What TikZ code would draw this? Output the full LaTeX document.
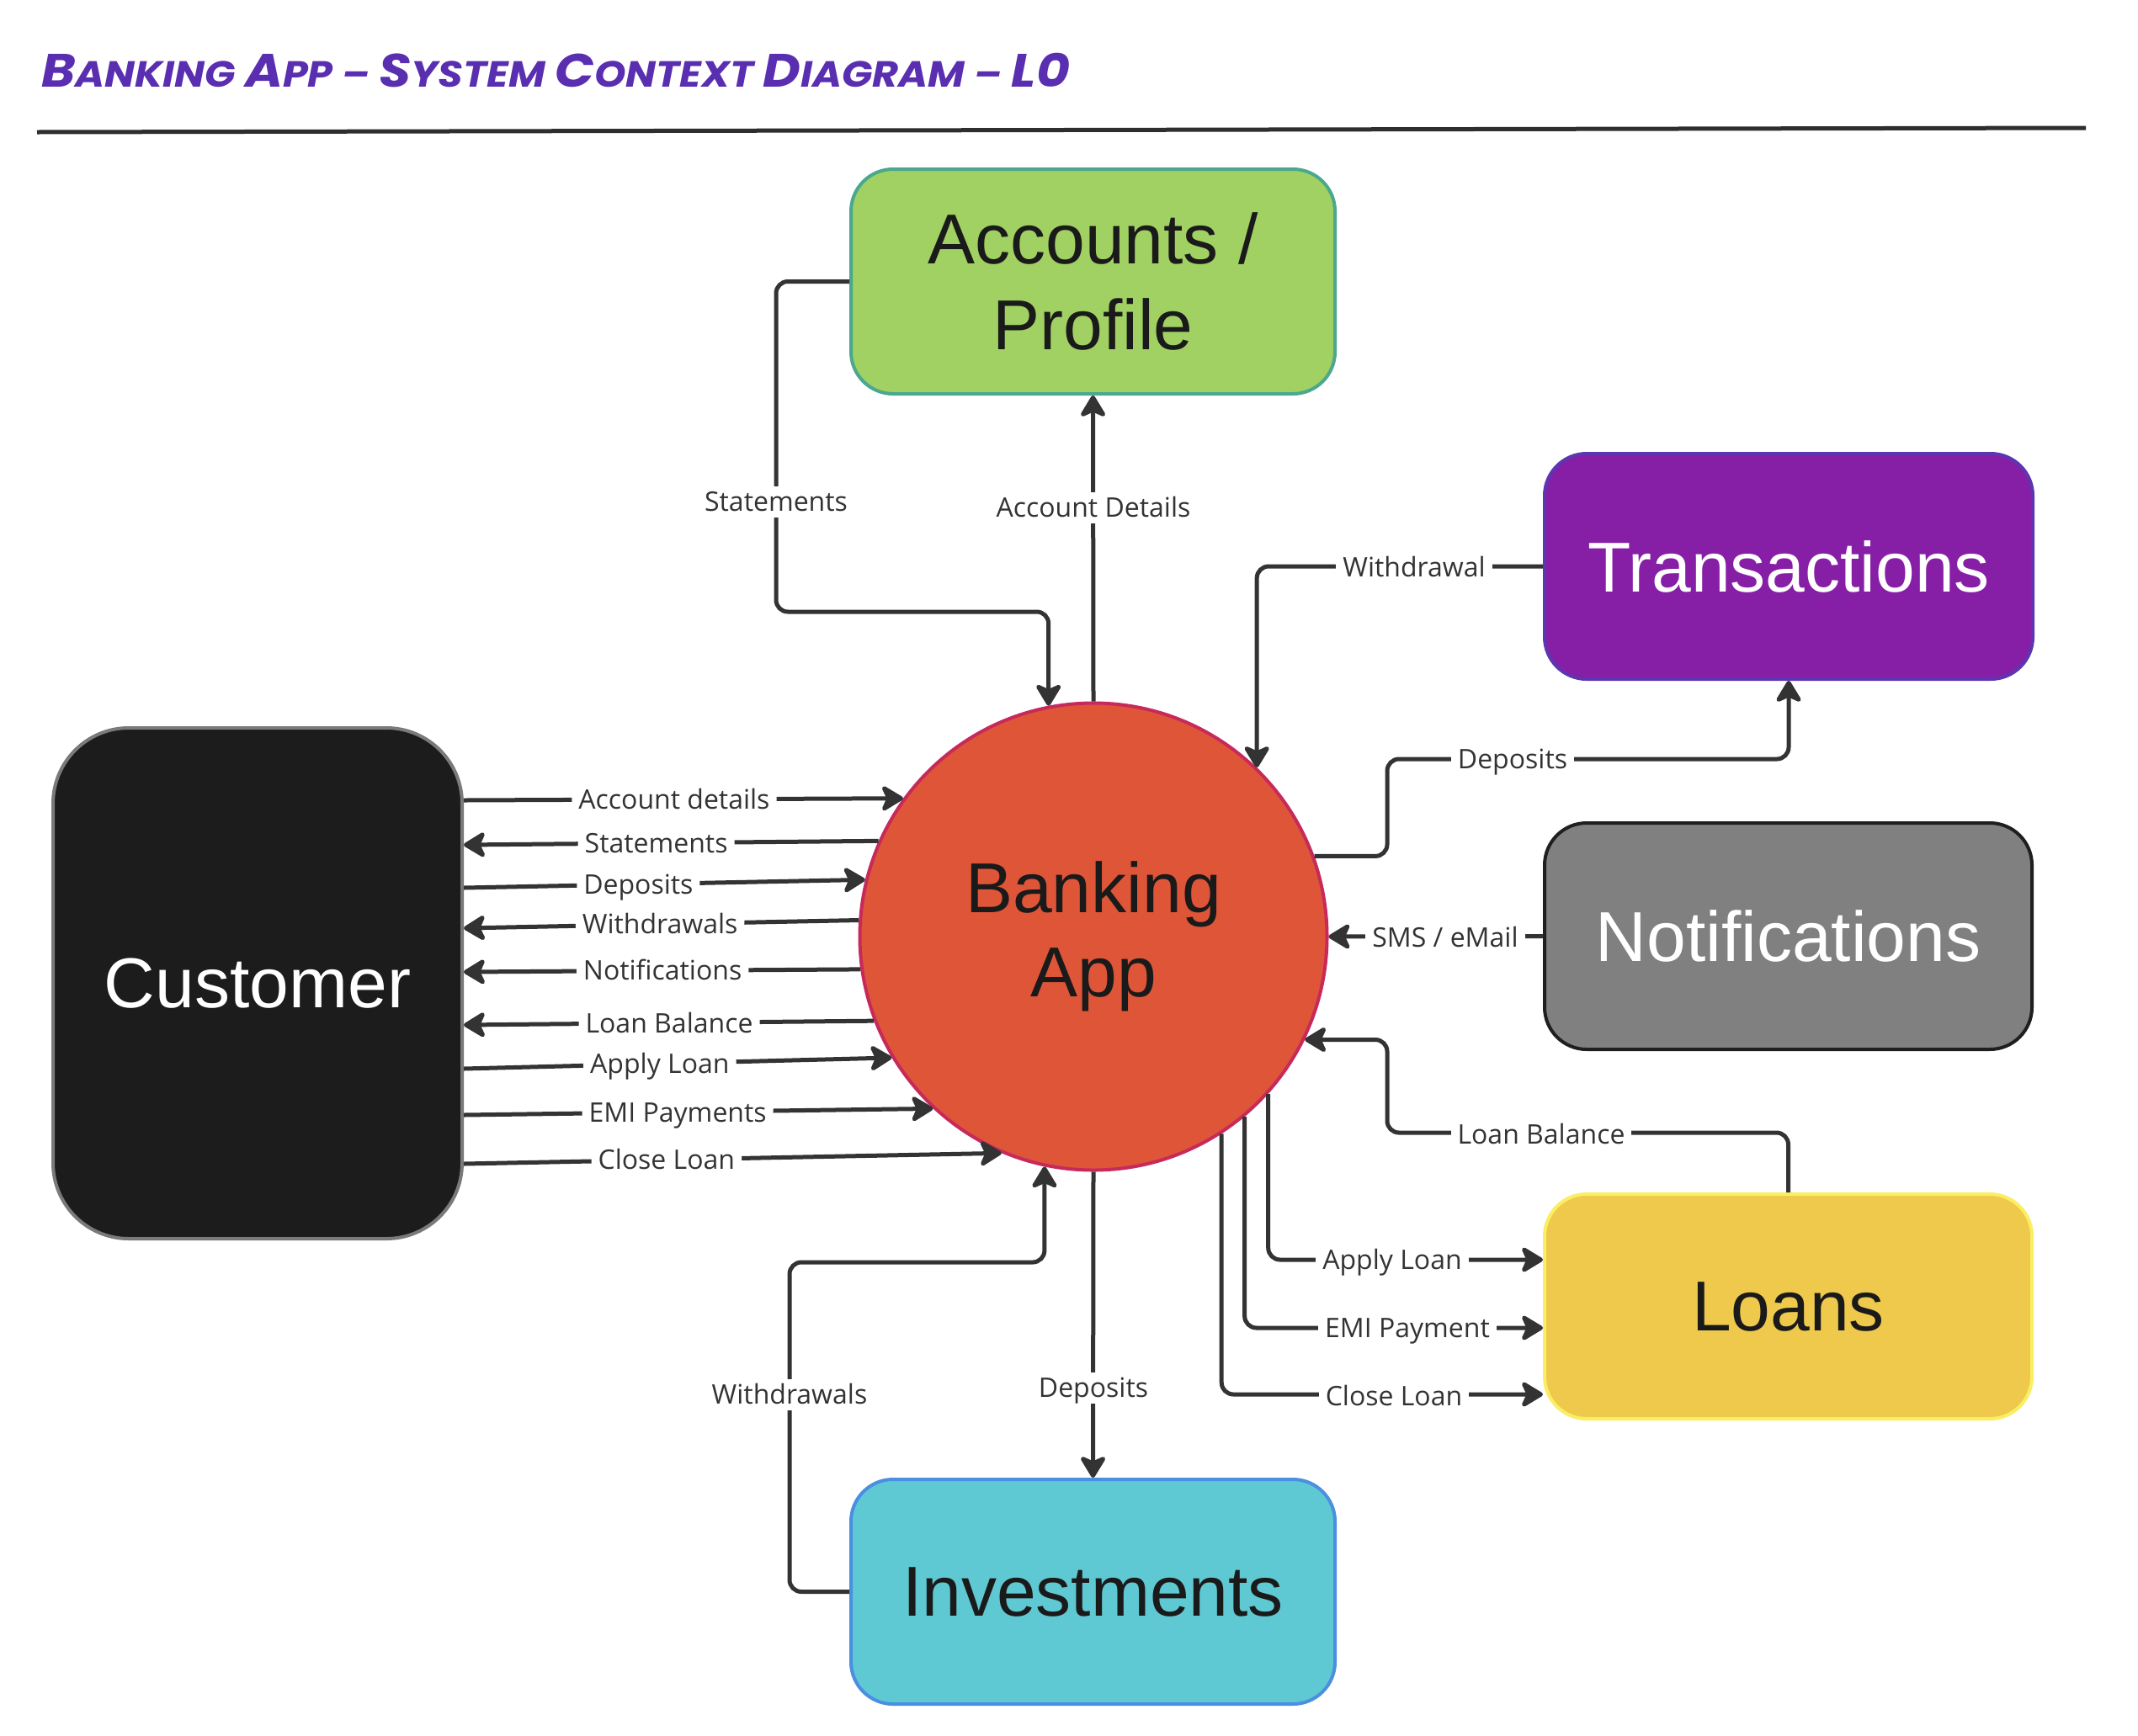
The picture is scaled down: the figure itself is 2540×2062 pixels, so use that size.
\documentclass[tikz,border=0pt]{standalone}
\usepackage{fontspec}
\usepackage{graphicx}
\usetikzlibrary{arrows.meta}
\newfontfamily\boxfont{Liberation Sans}
\newfontfamily\lblfont{Open Sans}
\newfontfamily\titlefont{Poppins}
\definecolor{titleC}{HTML}{5A2EB0}
\definecolor{ruleC}{HTML}{2E2E2E}
\definecolor{lineC}{HTML}{333333}
\definecolor{accF}{HTML}{A0D162}
\definecolor{accD}{HTML}{4BA88F}
\definecolor{trF}{HTML}{861FA6}
\definecolor{trD}{HTML}{5E35B1}
\definecolor{noF}{HTML}{808080}
\definecolor{noD}{HTML}{1F1F1F}
\definecolor{loF}{HTML}{EFC94C}
\definecolor{loD}{HTML}{FAEE62}
\definecolor{inF}{HTML}{5FC9D3}
\definecolor{inD}{HTML}{4A8FE0}
\definecolor{cuF}{HTML}{1C1C1C}
\definecolor{cuD}{HTML}{7A7A7A}
\definecolor{baF}{HTML}{DE5538}
\definecolor{baD}{HTML}{C72A5A}
\definecolor{txtD}{HTML}{1A1A1A}
\newcommand{\tbig}[1]{{\fontsize{54}{54}\selectfont #1}}
\newcommand{\tsm}[1]{{\fontsize{42}{42}\selectfont #1}}
\tikzset{
  box/.style={draw, line width=4pt, rounded corners=50pt, minimum width=575pt,
    minimum height=267pt, inner sep=0pt, align=center, text=txtD,
    font=\boxfont\fontsize{84}{102}\selectfont},
  conn/.style={draw=lineC, line width=5pt, rounded corners=14pt,
    -{Stealth[length=30pt,width=36pt,inset=8pt,round]}},
  lbl/.style={fill=white, text=lineC, font=\lblfont\fontsize{32}{32}\selectfont,
    inner xsep=8pt, inner ysep=6pt, text height=24pt, text depth=1pt},
}
\begin{document}
\begin{tikzpicture}[x=1pt,y=-1pt]
\fill[white] (0,0) rectangle (2540,2062);
\useasboundingbox (0,0) rectangle (2540,2062);

% title and rule
\node[anchor=west, inner sep=0pt, text=titleC, font=\titlefont\bfseries\itshape\fontsize{42}{42}\selectfont] (title) at (49,84)
  {\scalebox{1.135}[1.03]{\tbig{B}\tsm{ANKING} \tbig{A}\tsm{PP} \tsm{–} \tbig{S}\tsm{YSTEM} \tbig{C}\tsm{ONTEXT} \tbig{D}\tsm{IAGRAM} \tsm{–} \tbig{L0}}};
\coordinate (ruleL) at (44,157);
\coordinate (ruleR) at (2478,152);
\draw[ruleC, line width=5pt] (ruleL) -- (ruleR);

% nodes
\node[box, fill=accF, draw=accD] (acc) at (1298.5,334.5) {Accounts /\\Profile};
\node[box, fill=trF, draw=trD, text=white, minimum width=580pt, minimum height=268pt] (trans) at (2125,673) {Transactions};
\node[box, fill=noF, draw=noD, text=white, minimum width=579pt, minimum height=269pt] (notif) at (2124.5,1112.5) {Notifications};
\node[box, fill=loF, draw=loD, minimum width=579pt] (loans) at (2124.5,1552.5) {Loans};
\node[box, fill=inF, draw=inD] (inv) at (1298.5,1891.5) {Investments};
\node[box, fill=cuF, draw=cuD, text=white, minimum width=486pt, minimum height=607pt, rounded corners=90pt] (cust) at (306,1168.5) {Customer};
\node[circle, draw=baD, fill=baF, line width=4pt, minimum size=555pt, inner sep=0pt, align=center,
  text=txtD, font=\boxfont\fontsize{84}{100}\selectfont] (bank) at (1299,1113) {Banking\\App};

% top connectors
\draw[conn] (acc.west) -| (922,727) -| (bank.101.4);
\draw[conn] (bank.north) -- (acc.south);
\node[lbl] (lSt) at (922,596) {Statements};
\node[lbl] (lAcD) at (1299,603) {Account Details};

% right connectors
\draw[conn] (trans.west) -| (bank.46);
\node[lbl] (lWd) at (1680,674) {Withdrawal};
\draw[conn] (bank.20.4) -| (1648,902) -| (trans.south);
\node[lbl] (lDpT) at (1797,902) {Deposits};
\draw[conn] (notif.west) -- (bank.east);
\node[lbl] (lSms) at (1717,1114) {SMS / eMail};
\draw[conn] (loans.north) |- (1648,1346) |- (bank.-26.3);
\node[lbl] (lLbR) at (1831,1348) {Loan Balance};
\draw[conn] (bank.-42.2) |- (loans.west|-0,1497);
\node[lbl] (lApR) at (1654,1497) {Apply Loan};
\draw[conn] (bank.-50.2) |- (loans.west|-0,1578);
\node[lbl] (lEmR) at (1672,1578) {EMI Payment};
\draw[conn] (bank.-57.1) |- (loans.west|-0,1657);
\node[lbl] (lClR) at (1656,1659) {Close Loan};

% bottom connectors
\draw[conn] (bank.south) -- (inv.north);
\node[lbl] (lDpI) at (1299,1649) {Deposits};
\draw[conn] (inv.west) -| (938,1500) -| (bank.258.6);
\node[lbl] (lWdI) at (938,1657) {Withdrawals};

% customer connectors
\draw[conn] (cust.east|-0,951) -- (bank.144.4) node[lbl,pos=0.479] (lAd) {Account details};
\draw[conn] (bank.156) -- (cust.east|-0,1004) node[lbl,pos=0.536] (lStC) {Statements};
\draw[conn] (cust.east|-0,1055) -- (bank.166.5) node[lbl,pos=0.435] (lDpC) {Deposits};
\draw[conn] (bank.176.7) -- (cust.east|-0,1103) node[lbl,pos=0.503] (lWdC) {Withdrawals};
\draw[conn] (bank.188.3) -- (cust.east|-0,1155) node[lbl,pos=0.499] (lNoC) {Notifications};
\draw[conn] (bank.201.1) -- (cust.east|-0,1218) node[lbl,pos=0.499] (lLbC) {Loan Balance};
\draw[conn] (cust.east|-0,1270) -- (bank.211.7) node[lbl,pos=0.458] (lApC) {Apply Loan};
\draw[conn] (cust.east|-0,1325) -- (bank.227.2) node[lbl,pos=0.456] (lEmC) {EMI Payments};
\draw[conn] (cust.east|-0,1383) -- (bank.247.6) node[lbl,pos=0.377] (lClC) {Close Loan};
\end{tikzpicture}
\end{document}
